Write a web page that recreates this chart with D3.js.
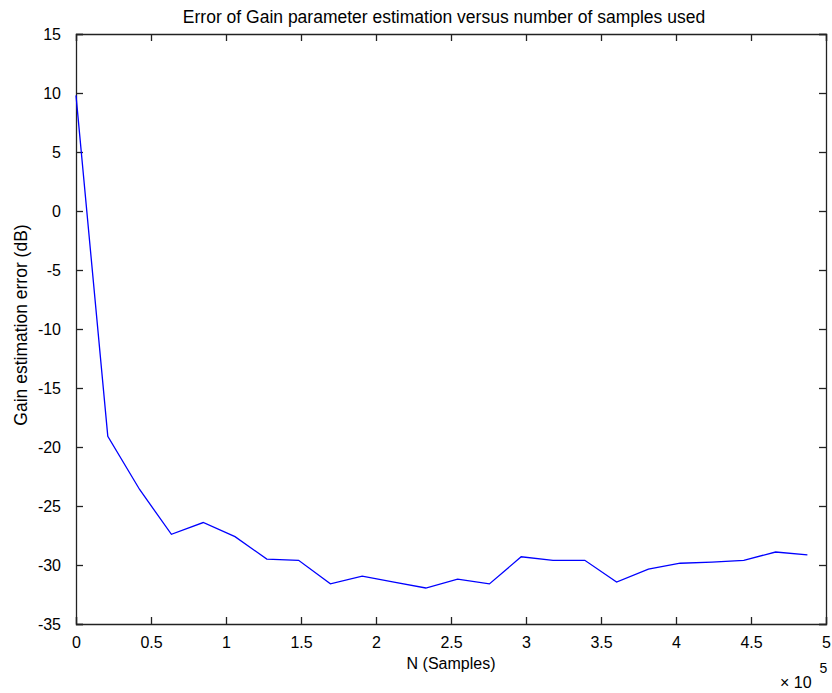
<!DOCTYPE html>
<html>
<head>
<meta charset="utf-8">
<script src="https://cdn.jsdelivr.net/npm/d3@7"></script>
<style>
  body { margin: 0; background: #fff; }
  svg text { font-family: "Liberation Sans", Arial, Helvetica, sans-serif; fill: #000; }
</style>
</head>
<body>
<svg id="chart"></svg>
<script>
// samples used (x) and gain error in dB (y)
var nSamples = [0, 21200, 42400, 63600, 84800, 106000, 127200, 148400, 169600, 190800,
    212000, 233200, 254400, 275600, 296800, 318000, 339200, 360400, 381600, 402800,
    424000, 445200, 466400, 487600];
var gainErr = [9.8, -19.1, -23.6, -27.4, -26.4, -27.6, -29.5, -29.6, -31.6, -30.95,
    -31.45, -31.95, -31.2, -31.6, -29.3, -29.6, -29.6, -31.45, -30.35, -29.85,
    -29.75, -29.6, -28.9, -29.15];
var xTicks = [0, 0.5, 1, 1.5, 2, 2.5, 3, 3.5, 4, 4.5, 5];
var yTicks = [15, 10, 5, 0, -5, -10, -15, -20, -25, -30, -35];

var W = 832, H = 693;
var margin = { top: 34, right: 6, bottom: 69, left: 76 },
    width = W - margin.left - margin.right,
    height = H - margin.top - margin.bottom;

var svg = d3.select("#chart")
    .attr("width", W)
    .attr("height", H);

var g = svg.append("g")
    .attr("transform", "translate(" + margin.left + "," + margin.top + ")");

var x = d3.scaleLinear().domain([0, 5e5]).range([0, width]);
var y = d3.scaleLinear().domain([-35, 15]).range([height, 0]);

// axes, matlab style: ticks point inward on every side
var tickLen = 7;
g.append("g")
    .attr("transform", "translate(0," + height + ")")
    .call(d3.axisBottom(x).tickValues(xTicks.map(d => d * 1e5)).tickSize(-tickLen).tickPadding(tickLen + 6)
        .tickFormat((d, i) => xTicks[i]))
    .call(a => a.selectAll("text").style("font-size", "16px"));

g.append("g")
    .call(d3.axisTop(x).tickValues(xTicks.map(d => d * 1e5)).tickSize(-tickLen).tickFormat(""));

// plain hyphen for negatives like the original
g.append("g")
    .call(d3.axisLeft(y).tickValues(yTicks).tickSize(-tickLen).tickPadding(tickLen + 8)
        .tickFormat(d => String(d)))
    .call(a => a.selectAll("text").style("font-size", "16px"));

g.append("g")
    .attr("transform", "translate(" + width + ",0)")
    .call(d3.axisRight(y).tickValues(yTicks).tickSize(-tickLen).tickFormat(""));

g.selectAll(".domain").attr("stroke", "#222").attr("stroke-width", 1.3);
g.selectAll(".tick line").attr("stroke", "#222").attr("stroke-width", 1.3);
g.selectAll(".tick text").attr("fill", "#000");

// the data line
var line = d3.line()
    .x(function(d, i) { return x(nSamples[i]); })
    .y(function(d) { return y(d); });

g.append("path")
    .datum(gainErr)
    .attr("fill", "none")
    .attr("stroke", "#0000ff")
    .attr("stroke-width", 1.3)
    .attr("d", line);

// title and labels
svg.append("text")
    .attr("x", margin.left + width / 2 - 7)
    .attr("y", 23)
    .attr("text-anchor", "middle")
    .style("font-size", "17.5px")
    .text("Error of Gain parameter estimation versus number of samples used");

svg.append("text")
    .attr("x", margin.left + width / 2)
    .attr("y", 669)
    .attr("text-anchor", "middle")
    .style("font-size", "16px")
    .text("N (Samples)");

svg.append("text")
    .attr("transform", "translate(27," + (margin.top + height / 2 - 4) + ") rotate(-90)")
    .attr("text-anchor", "middle")
    .style("font-size", "17.5px")
    .text("Gain estimation error (dB)");

// exponent label
var expo = svg.append("text")
    .attr("x", 780)
    .attr("y", 688)
    .style("font-size", "16px");
expo.append("tspan").text("\u00d7 10");
expo.append("tspan").attr("dx", 8).attr("dy", -15).style("font-size", "14px").text("5");
</script>
</body>
</html>
